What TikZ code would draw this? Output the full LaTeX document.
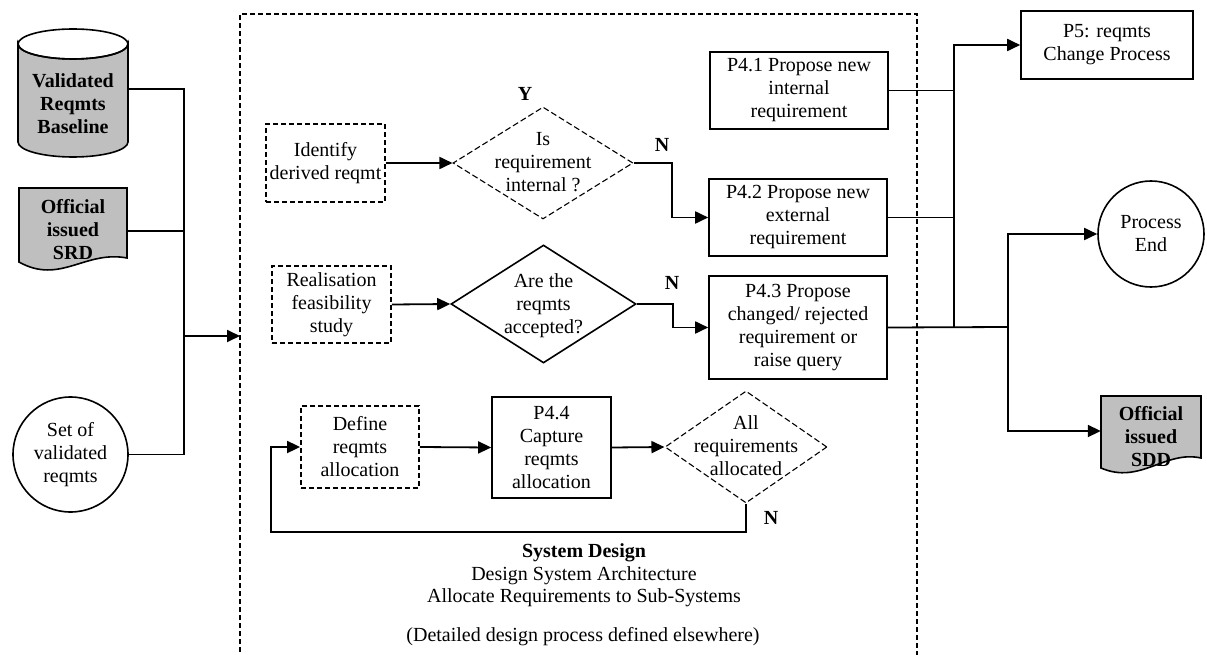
\documentclass[tikz,border=0pt]{standalone}
\usepackage{fontspec}
\setmainfont{Liberation Serif}
\usetikzlibrary{shapes.geometric,arrows.meta}
\begin{document}
\begin{tikzpicture}[x=1pt,y=-1pt,
  every node/.style={font=\fontsize{20}{23}\selectfont, align=center, inner sep=0pt},
  ln/.style={line width=1.8pt},
  arr/.style={ln, -{Triangle[length=13pt,width=12pt]}},
  solidbox/.style={draw, rectangle, line width=1.6pt},
  dashbox/.style={draw, rectangle, line width=1.8pt, dash pattern=on 5pt off 3pt},
  dashdia/.style={draw, diamond, line width=1.1pt, dash pattern=on 6pt off 3pt},
  soliddia/.style={draw, diamond, line width=1.6pt},
  ringnode/.style={draw, circle, line width=1.6pt},
  docfill/.style={draw, line width=1.6pt, fill=black!25},
  anchorbox/.style={rectangle, inner sep=0pt},
  lbl/.style={font=\fontsize{20}{23}\selectfont\bfseries},
]
\useasboundingbox (0,0) rectangle (1207,655);

% ---------- inputs on the left ----------
% database cylinder
\draw[docfill] (18,44) -- (18,142) arc[start angle=180, end angle=360, x radius=55, y radius=-15]
  -- (128,44) arc[start angle=0, end angle=180, x radius=55, y radius=15] -- cycle;
\draw[line width=1.6pt] (73,44) ellipse[x radius=55, y radius=15];
\node[font=\fontsize{20}{23}\selectfont\bfseries] (cyltext) at (73,104) {Validated\\Reqmts\\Baseline};
\node[anchorbox, minimum width=110pt] (cyl) at (73,89) {};

% issued document
\draw[docfill] (19,188) -- (127,188) -- (127,258)
  .. controls (85,250) and (60,285) .. (19,262) -- cycle;
\node[font=\fontsize{20}{23}\selectfont\bfseries] (srdtext) at (73,230) {Official\\issued\\SRD};
\node[anchorbox, minimum width=108pt] (srd) at (73,231) {};

% circle input
\node[ringnode, minimum size=115pt] (setv) at (70.5,454.5) {Set of\\validated\\reqmts};

% bus into the design block
\coordinate (bus) at (184,336);
\coordinate (sdin) at (240,336);
\draw[ln] (cyl.east) -| (bus);
\draw[ln] (srd.east) -| (bus);
\draw[ln] (setv.east) -| (bus);
\draw[arr] (bus) -- (sdin);

% ---------- system design block ----------
\draw[line width=1.8pt, dash pattern=on 5pt off 3pt] (240,660) -- (240,14) -- (917,14) -- (917,660);

% row 1
\node[dashbox, minimum width=119pt, minimum height=78pt] (idb) at (325.5,163) {Identify\\derived reqmt};
\node[dashdia, minimum width=180pt, minimum height=112pt] (d1) at (543,163) {};
\node (d1t) at (543,162) {Is\\requirement\\internal ?};
\node[lbl] (ylbl) at (525,94) {Y};
\node[lbl] (n1) at (662,145) {N};

% row 2
\node[dashbox, minimum width=119pt, minimum height=77pt] (rfs) at (331.5,304.5) {Realisation\\feasibility\\study};
\node[soliddia, minimum width=185pt, minimum height=118pt] (d2) at (543.5,304) {};
\node (d2t) at (543.5,306) {Are the\\reqmts\\accepted?};
\node[lbl] (n2) at (672,283) {N};

% proposal boxes
\node[solidbox, minimum width=178pt, minimum height=77pt] (p41) at (799,90.5) {P4.1 Propose new\\internal\\requirement};
\node[solidbox, minimum width=178pt, minimum height=77pt] (p42) at (798,217.5) {P4.2 Propose new\\external\\requirement};
\node[solidbox, minimum width=178pt, minimum height=103pt] (p43) at (798,327.5) {P4.3 Propose\\changed/ rejected\\requirement or\\raise query};

% row 3
\node[dashbox, minimum width=118pt, minimum height=82pt] (dra) at (360,447) {Define\\reqmts\\allocation};
\node[solidbox, minimum width=119pt, minimum height=101pt] (p44) at (551.5,447.5) {P4.4\\Capture\\reqmts\\allocation};
\node[dashdia, minimum width=162pt, minimum height=112pt] (d3) at (746,447) {};
\node (d3t) at (746,446) {All\\requirements\\allocated};
\node[lbl] (n3) at (771,518) {N};

% captions
\node[font=\fontsize{20}{23}\selectfont\bfseries] (cap1) at (584,553) {System Design};
\node (cap2) at (584,576) {Design System Architecture};
\node (cap3) at (584,598) {Allocate Requirements to Sub-Systems};
\node (cap4) at (583,637) {(Detailed design process defined elsewhere)};

% flows inside the block
\coordinate (k1) at (672,163);
\coordinate (k2) at (673,304);
\coordinate (k3) at (271,532);
\draw[arr] (idb.east) -- (d1.west);
\draw[arr] (d1.east) -- (k1) |- (p42.west);
\draw[arr] (rfs.east) -- (d2.west);
\draw[arr] (d2.east) -- (k2) |- (p43.west);
\draw[arr] (dra.east) -- (p44.west);
\draw[arr] (p44.east) -- (d3.west);
\draw[arr] (d3.south) |- (k3) |- (dra.west);

% ---------- outputs on the right ----------
\node[solidbox, minimum width=172pt, minimum height=68pt] (p5) at (1107,45) {P5: reqmts\\Change Process};
\node[ringnode, minimum size=106pt] (pend) at (1151,234) {Process\\End};

\draw[docfill] (1101,396) -- (1201,396) -- (1201,458)
  .. controls (1165,450) and (1140,485) .. (1101,468) -- cycle;
\node[font=\fontsize{20}{23}\selectfont\bfseries] (sddtext) at (1151,437) {Official\\issued\\SDD};
\node[anchorbox, minimum width=100pt] (sdd) at (1151,431) {};

\coordinate (rb) at (954,327);
\coordinate (rb2) at (1008,327);
\draw[ln] (p41.east) -| (rb);
\draw[ln] (p42.east) -- (p42.east -| rb);
\draw[ln] (p43.east) -- (rb2);
\draw[arr] (rb) |- (p5.west);
\draw[arr] (rb2) |- (pend.west);
\draw[arr] (rb2) |- (sdd.west);
\end{tikzpicture}
\end{document}
